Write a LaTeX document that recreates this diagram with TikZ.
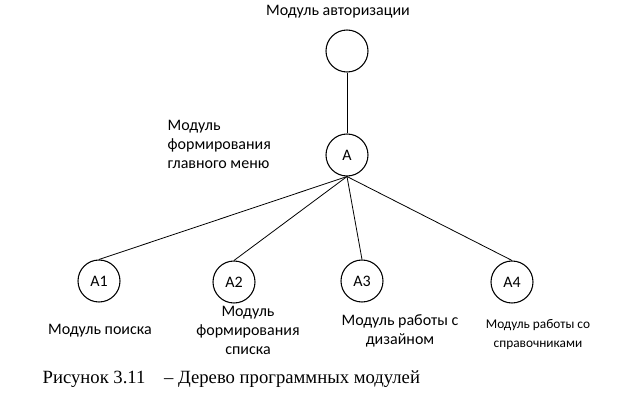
\documentclass[tikz,border=0pt]{standalone}
\usepackage{fontspec}
\setmainfont{Carlito}
\newfontfamily\capfont{Liberation Serif}
\usepackage{tikz}
\usetikzlibrary{positioning}
\tikzstyle{modnode}=[draw, circle, thick, minimum size=31.5pt, inner sep=0pt, font=\fontsize{12}{14}\selectfont]
\tikzstyle{lbl}=[align=center, font=\fontsize{12}{14.2}\selectfont]
\tikzstyle{edge}=[draw, semithick]

\begin{document}
\begin{tikzpicture}[x=0.75pt,y=-0.75pt]
    \useasboundingbox (0,0) rectangle (634,416);
    \node [modnode] (auth) at (347,51) {};
    \node [modnode] (a) at (347,155) {A};
    \node [modnode] (a1) at (99,281) {A1};
    \node [modnode] (a2) at (234,282) {A2};
    \node [modnode] (a3) at (362,281) {A3};
    \node [modnode] (a4) at (512,282) {A4};
    % labels
    \node [lbl] (authl) at (338,12) {Модуль авторизации};
    \node [lbl, align=left, anchor=west] (al) at (163,144) {Модуль\\формирования\\главного меню};
    \node [lbl] (a1l) at (100,331) {Модуль поиска};
    \node [lbl] (a2l) at (248,330) {Модуль\\формирования\\списка};
    \node [lbl] (a3l) at (400,331) {Модуль работы с\\дизайном};
    \node [lbl, font=\fontsize{10}{14.2}\selectfont] (a4l) at (538,335) {Модуль работы со\\справочниками};
    \path[edge] (auth) -- (a);
    \path[edge] (a.south) -- (a1.north);
    \path[edge] (a.south) -- (a2.north);
    \path[edge] (a.south) -- (a3.north);
    \path[edge] (a.south) -- (a4.north);
    \node [anchor=west, font=\capfont\fontsize{14}{16}\selectfont] (cap) at (38,379) {Рисунок 3.11\hspace{1em}– Дерево программных модулей};
\end{tikzpicture}
\end{document}
